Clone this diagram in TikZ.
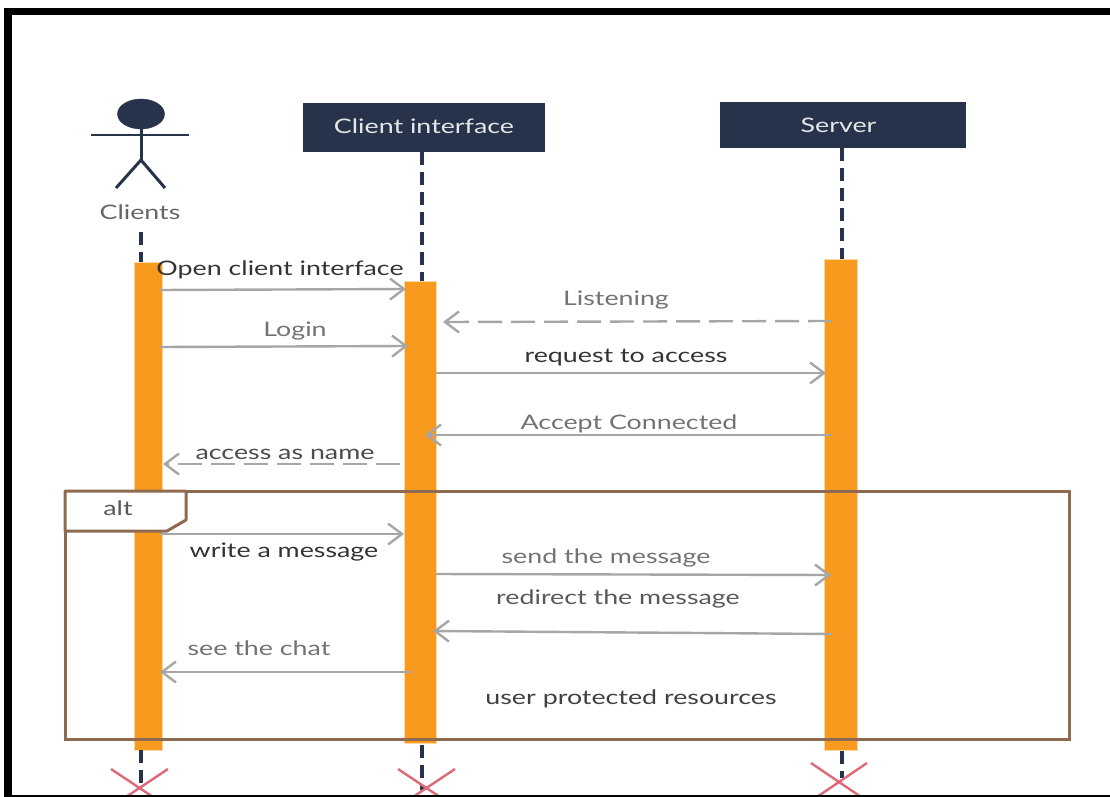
\documentclass[tikz,border=0pt]{standalone}
\usepackage{fontspec}
\setmainfont{Lato}[FakeStretch=1.34]
\usetikzlibrary{arrows.meta,shapes.geometric}
\definecolor{navy}{HTML}{26334B}
\definecolor{barfill}{HTML}{F79A1E}
\definecolor{framec}{HTML}{8E6A50}
\definecolor{msgc}{HTML}{A6A6A6}
\definecolor{crossc}{HTML}{DE6A78}
\tikzset{
  x=1pt,y=-1pt,
  lifebox/.style={draw=none,fill=navy,text=white!88!navy,inner sep=0,font=\fontsize{20}{22}\selectfont},
  lifeline/.style={draw=navy,line width=3.2pt,dash pattern=on 13pt off 7pt},
  activation/.style={draw=barfill!40!white,line width=.8pt,fill=barfill,inner sep=0},
  msg/.style={draw=msgc,line width=2.4pt,-{Straight Barb[length=14pt,width=21pt,line width=2.4pt]}},
  reply/.style={msg,dash pattern=on 24pt off 9pt},
  lab/.style={inner sep=0,font=\fontsize{20}{22}\selectfont,text=black!55},
  labd/.style={lab,text=black!80},
  stick/.style={draw=navy,line width=3pt},
  crossm/.style={draw=crossc,line width=2.4pt},
  frameline/.style={draw=framec,line width=3pt}
}
\begin{document}
\begin{tikzpicture}
\useasboundingbox (0,0) rectangle (1110,797);
\fill[white] (0,0) rectangle (1110,797);
% lifeline anchors
\coordinate (c1) at (141,232); \coordinate (c2) at (141,262);
\coordinate (c3) at (141,750); \coordinate (c4) at (141,790);
\coordinate (i3) at (422,745); \coordinate (i4) at (422,790);
\coordinate (s3) at (842,751); \coordinate (s4) at (842,778);
% actor
\node[draw=navy,fill=navy,ellipse,minimum width=47pt,minimum height=30pt,inner sep=0] (head) at (141,114) {};
\coordinate (armL) at (91,135); \coordinate (armR) at (189,135);
\coordinate (hip) at (141,160); \coordinate (neck) at (141,129);
\coordinate (legL) at (116,188); \coordinate (legR) at (165,188);
\draw[stick,line width=2.4pt] (armL) -- (armR);
\draw[stick] (neck) -- (hip);
\draw[stick] (legL) -- (hip) -- (legR);
\node[lab,text=black!60] (clients) at (140,212) {Clients};
% heads
\node[lifebox,minimum width=242pt,minimum height=49pt] (ci) at (424,127.5) {\raisebox{2pt}{Client interface}};
\node[lifebox,minimum width=246pt,minimum height=46pt] (srv) at (843,125) {\hspace*{-9pt}Server};
% bars
\node[activation,minimum width=28pt,minimum height=488pt] (b1) at (148,506) {};
\node[activation,minimum width=32pt,minimum height=462pt] (b2) at (420,512) {};
\node[activation,minimum width=33pt,minimum height=491pt] (b3) at (840.5,504.5) {};
% lifelines
\draw[lifeline] (c1) -- (c2);
\draw[lifeline] (ci.south -| i3) -- (b2.north -| i3);
\draw[lifeline] (srv.south -| s3) -- (b3.north -| s3);
\draw[lifeline] (c3) -- (c4);
\draw[lifeline] (i3) -- (i4);
\draw[lifeline] (s3) -- (s4);
% destruction crosses
\coordinate (xa1) at (111,769); \coordinate (xa2) at (168,807);
\coordinate (xa3) at (168,769); \coordinate (xa4) at (111,807);
\coordinate (xb1) at (398,769); \coordinate (xb2) at (455,807);
\coordinate (xb3) at (455,769); \coordinate (xb4) at (398,807);
\coordinate (xc1) at (811,763); \coordinate (xc2) at (867,801);
\coordinate (xc3) at (867,763); \coordinate (xc4) at (811,801);
\begin{scope}
\clip (0,0) rectangle (1110,797);
\draw[crossm] (xa1) -- (xa2); \draw[crossm] (xa3) -- (xa4);
\draw[crossm] (xb1) -- (xb2); \draw[crossm] (xb3) -- (xb4);
\draw[crossm] (xc1) -- (xc2); \draw[crossm] (xc3) -- (xc4);
\end{scope}
% alt frame
\node[draw=framec,line width=3pt,minimum width=1004pt,minimum height=248pt,inner sep=0] (alt) at (567,615) {};
\coordinate (t0) at (65,491); \coordinate (t1) at (186,491); \coordinate (t2) at (186,520);
\coordinate (t3) at (167,531); \coordinate (t4) at (65,531);
\draw[frameline,fill=white,line join=round] (t0) -- (t1) -- (t2) -- (t3) -- (t4) -- cycle;
\node[lab,text=black!65] (altl) at (118,508) {alt};
% message anchors
\coordinate (m1a) at (160,290); \coordinate (m1b) at (406,289);
\coordinate (m2a) at (160,347); \coordinate (m2b) at (408,346);
\coordinate (m3a) at (832,321); \coordinate (m3b) at (443,322);
\coordinate (m4a) at (436,373); \coordinate (m4b) at (826,373);
\coordinate (m5a) at (832,435); \coordinate (m5b) at (425,435);
\coordinate (m6a) at (400,464); \coordinate (m6b) at (163,464);
\coordinate (m7a) at (160,534); \coordinate (m7b) at (404,534);
\coordinate (m8a) at (436,574); \coordinate (m8b) at (831,575);
\coordinate (m9a) at (832,634); \coordinate (m9b) at (433,631);
\coordinate (m10a) at (412,672); \coordinate (m10b) at (160,672);
\draw[msg] (m1a) -- (m1b);
\draw[msg] (m2a) -- (m2b);
\draw[reply] (m3a) -- (m3b);
\draw[msg] (m4a) -- (m4b);
\draw[msg] (m5a) -- (m5b);
\draw[reply] (m6a) -- (m6b);
\draw[msg] (m7a) -- (m7b);
\draw[msg] (m8a) -- (m8b);
\draw[msg] (m9a) -- (m9b);
\draw[msg] (m10a) -- (m10b);
% labels
\node[labd] (l1) at (280,270) {Open client interface};
\node[lab] (l2) at (295,331) {Login};
\node[lab] (l3) at (616,300) {Listening};
\node[labd] (l4) at (626,358) {request to access};
\node[lab] (l5) at (629,424) {Accept Connected};
\node[labd,text=black!70] (l6) at (285,454) {access as name};
\node[labd] (l7) at (284,552) {write a message};
\node[lab] (l8) at (606,558) {send the message};
\node[lab,text=black!65] (l9) at (618,599) {redirect the message};
\node[lab] (l10) at (259,648) {see the chat};
\node[labd,text=black!75] (l11) at (631,699) {user protected resources};
% outer black frame
\fill[black] (4,8) rectangle (1110,15);
\fill[black] (4,8) rectangle (12,797);
\fill[black] (4,795) rectangle (1110,797);
\end{tikzpicture}
\end{document}
